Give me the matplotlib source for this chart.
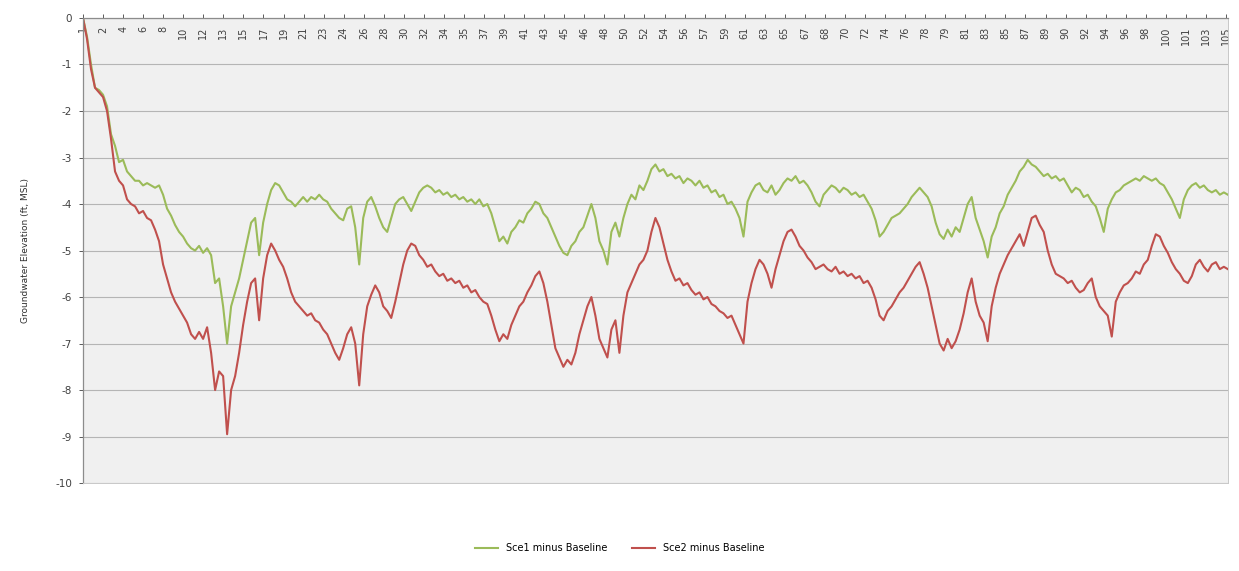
import numpy as np
import matplotlib
matplotlib.use("Agg")
import matplotlib.pyplot as plt

plt.rcParams["axes.unicode_minus"] = False

# groundwater difference vs baseline (ft), one sample every ~4.4 months
sce1 = [0.0, -0.4, -1.0, -1.5, -1.55, -1.65, -1.9, -2.5, -2.75, -3.1,
        -3.05, -3.3, -3.4, -3.5, -3.5, -3.6, -3.55, -3.6, -3.65, -3.6,
        -3.8, -4.1, -4.25, -4.45, -4.6, -4.7, -4.85, -4.95, -5.0, -4.9,
        -5.05, -4.95, -5.1, -5.7, -5.6, -6.2, -7.0, -6.2, -5.9, -5.6,
        -5.2, -4.8, -4.4, -4.3, -5.1, -4.4, -4.0, -3.7, -3.55, -3.6,
        -3.75, -3.9, -3.95, -4.05, -3.95, -3.85, -3.95, -3.85, -3.9, -3.8,
        -3.9, -3.95, -4.1, -4.2, -4.3, -4.35, -4.1, -4.05, -4.5, -5.3,
        -4.3, -3.95, -3.85, -4.05, -4.3, -4.5, -4.6, -4.3, -4.0, -3.9,
        -3.85, -4.0, -4.15, -3.95, -3.75, -3.65, -3.6, -3.65, -3.75, -3.7,
        -3.8, -3.75, -3.85, -3.8, -3.9, -3.85, -3.95, -3.9, -4.0, -3.9,
        -4.05, -4.0, -4.2, -4.5, -4.8, -4.7, -4.85, -4.6, -4.5, -4.35,
        -4.4, -4.2, -4.1, -3.95, -4.0, -4.2, -4.3, -4.5, -4.7, -4.9,
        -5.05, -5.1, -4.9, -4.8, -4.6, -4.5, -4.25, -4.0, -4.3, -4.8,
        -5.0, -5.3, -4.6, -4.4, -4.7, -4.3, -4.0, -3.8, -3.9, -3.6,
        -3.7, -3.5, -3.25, -3.15, -3.3, -3.25, -3.4, -3.35, -3.45, -3.4,
        -3.55, -3.45, -3.5, -3.6, -3.5, -3.65, -3.6, -3.75, -3.7, -3.85,
        -3.8, -4.0, -3.95, -4.1, -4.3, -4.7, -3.95, -3.75, -3.6, -3.55,
        -3.7, -3.75, -3.6, -3.8, -3.7, -3.55, -3.45, -3.5, -3.4, -3.55,
        -3.5, -3.6, -3.75, -3.95, -4.05, -3.8, -3.7, -3.6, -3.65, -3.75,
        -3.65, -3.7, -3.8, -3.75, -3.85, -3.8, -3.95, -4.1, -4.35, -4.7,
        -4.6, -4.45, -4.3, -4.25, -4.2, -4.1, -4.0, -3.85, -3.75, -3.65,
        -3.75, -3.85, -4.05, -4.4, -4.65, -4.75, -4.55, -4.7, -4.5, -4.6,
        -4.3, -4.0, -3.85, -4.3, -4.55, -4.8, -5.15, -4.7, -4.5, -4.2,
        -4.05, -3.8, -3.65, -3.5, -3.3, -3.2, -3.05, -3.15, -3.2, -3.3,
        -3.4, -3.35, -3.45, -3.4, -3.5, -3.45, -3.6, -3.75, -3.65, -3.7,
        -3.85, -3.8, -3.95, -4.05, -4.3, -4.6, -4.1, -3.9, -3.75, -3.7,
        -3.6, -3.55, -3.5, -3.45, -3.5, -3.4, -3.45, -3.5, -3.45, -3.55,
        -3.6, -3.75, -3.9, -4.1, -4.3, -3.9, -3.7, -3.6, -3.55, -3.65,
        -3.6, -3.7, -3.75, -3.7, -3.8, -3.75, -3.8]

sce2 = [0.0, -0.45, -1.1, -1.5, -1.6, -1.7, -2.0, -2.6, -3.3, -3.5,
        -3.6, -3.9, -4.0, -4.05, -4.2, -4.15, -4.3, -4.35, -4.55, -4.8,
        -5.3, -5.6, -5.9, -6.1, -6.25, -6.4, -6.55, -6.8, -6.9, -6.75,
        -6.9, -6.65, -7.2, -8.0, -7.6, -7.7, -8.95, -8.0, -7.7, -7.2,
        -6.6, -6.1, -5.7, -5.6, -6.5, -5.6, -5.1, -4.85, -5.0, -5.2,
        -5.35, -5.6, -5.9, -6.1, -6.2, -6.3, -6.4, -6.35, -6.5, -6.55,
        -6.7, -6.8, -7.0, -7.2, -7.35, -7.1, -6.8, -6.65, -7.0, -7.9,
        -6.8, -6.2, -5.95, -5.75, -5.9, -6.2, -6.3, -6.45, -6.1, -5.7,
        -5.3, -5.0, -4.85, -4.9, -5.1, -5.2, -5.35, -5.3, -5.45, -5.55,
        -5.5, -5.65, -5.6, -5.7, -5.65, -5.8, -5.75, -5.9, -5.85, -6.0,
        -6.1, -6.15, -6.4, -6.7, -6.95, -6.8, -6.9, -6.6, -6.4, -6.2,
        -6.1, -5.9, -5.75, -5.55, -5.45, -5.7, -6.1, -6.6, -7.1, -7.3,
        -7.5, -7.35, -7.45, -7.2, -6.8, -6.5, -6.2, -6.0, -6.4, -6.9,
        -7.1, -7.3, -6.7, -6.5, -7.2, -6.4, -5.9, -5.7, -5.5, -5.3,
        -5.2, -5.0, -4.6, -4.3, -4.5, -4.85, -5.2, -5.45, -5.65, -5.6,
        -5.75, -5.7, -5.85, -5.95, -5.9, -6.05, -6.0, -6.15, -6.2, -6.3,
        -6.35, -6.45, -6.4, -6.6, -6.8, -7.0, -6.1, -5.7, -5.4, -5.2,
        -5.3, -5.5, -5.8, -5.4, -5.1, -4.8, -4.6, -4.55, -4.7, -4.9,
        -5.0, -5.15, -5.25, -5.4, -5.35, -5.3, -5.4, -5.45, -5.35, -5.5,
        -5.45, -5.55, -5.5, -5.6, -5.55, -5.7, -5.65, -5.8, -6.05, -6.4,
        -6.5, -6.3, -6.2, -6.05, -5.9, -5.8, -5.65, -5.5, -5.35, -5.25,
        -5.5, -5.8, -6.2, -6.6, -7.0, -7.15, -6.9, -7.1, -6.95, -6.7,
        -6.35, -5.9, -5.6, -6.1, -6.4, -6.55, -6.95, -6.2, -5.8, -5.5,
        -5.3, -5.1, -4.95, -4.8, -4.65, -4.9, -4.6, -4.3, -4.25, -4.45,
        -4.6, -5.0, -5.3, -5.5, -5.55, -5.6, -5.7, -5.65, -5.8, -5.9,
        -5.85, -5.7, -5.6, -6.0, -6.2, -6.3, -6.4, -6.85, -6.1, -5.9,
        -5.75, -5.7, -5.6, -5.45, -5.5, -5.3, -5.2, -4.9, -4.65, -4.7,
        -4.9, -5.05, -5.25, -5.4, -5.5, -5.65, -5.7, -5.55, -5.3, -5.2,
        -5.35, -5.45, -5.3, -5.25, -5.4, -5.35, -5.4]

# year labels shown along the top axis (one every 22 months)
year_labels = ["1", "2", "4", "6", "8", "10", "12", "13", "15", "17", "19", "21",
               "23", "24", "26", "28", "30", "32", "34", "35", "37", "39", "41",
               "43", "45", "46", "48", "50", "52", "54", "56", "57", "59", "61",
               "63", "65", "67", "68", "70", "72", "74", "76", "78", "79", "81",
               "83", "85", "87", "89", "90", "92", "94", "96", "98", "100", "101",
               "103", "105"]

n_months = 1256
months = np.linspace(0, n_months, len(sce1))
tick_pos = np.arange(len(year_labels)) * 22

fig = plt.figure(figsize=(12.39, 5.71), dpi=100)
ax = fig.add_axes([0.067, 0.154, 0.924, 0.8145])
ax.set_facecolor("#f0f0f0")

ax.plot(months, sce1, color="#9bbb59", lw=1.5, label="Sce1 minus Baseline")
ax.plot(months, sce2, color="#c0504d", lw=1.5, label="Sce2 minus Baseline")

ax.set_xlim(0, n_months)
ax.set_ylim(-10, 0)
ax.set_yticks(np.arange(-10, 1, 1))
ax.yaxis.grid(True, color="#b5b5b5", lw=0.8)
ax.set_axisbelow(True)
ax.tick_params(axis="y", labelsize=7.5, colors="#404040", length=3, width=0.6, pad=5)

# x axis sits at y = 0, i.e. on top, labels hang below the line
ax.xaxis.tick_top()
ax.set_xticks(tick_pos)
ax.set_xticklabels(year_labels, rotation=90, fontsize=7, color="#303030")
ax.tick_params(axis="x", length=3, width=0.6, pad=-9, colors="#404040")
for t in ax.xaxis.get_major_ticks():
    t.label2.set_verticalalignment("top")

for side in ["top", "left"]:
    ax.spines[side].set_color("#8c8c8c")
    ax.spines[side].set_linewidth(0.9)
for side in ["bottom", "right"]:
    ax.spines[side].set_color("#c8c8c8")
    ax.spines[side].set_linewidth(0.7)

ax.set_ylabel("Groundwater Elevation (ft, MSL)", fontsize=6.5, color="#303030", labelpad=18)

fig.legend(loc="center", bbox_to_anchor=(0.5, 0.04), ncol=2, frameon=False,
           fontsize=7, handlelength=2.4, columnspacing=2.5)

fig.savefig("out.png", dpi=100)
